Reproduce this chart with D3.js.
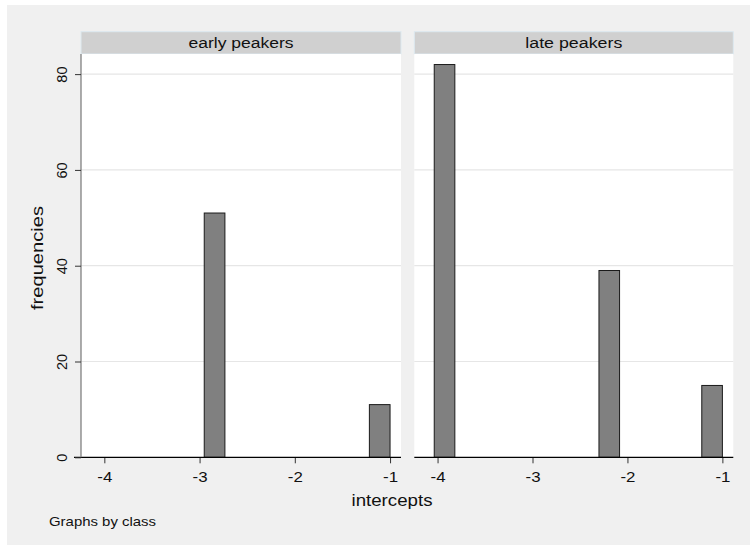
<!DOCTYPE html>
<html>
<head>
<meta charset="utf-8">
<script src="https://cdn.jsdelivr.net/npm/d3@7"></script>
<style>
  body { margin: 0; background: #fff; }
  text { font-family: Arial, "Liberation Sans", sans-serif; fill: #111; }
</style>
</head>
<body>
<div id="chart"></div>
<script>
// histogram bins (lower edges) and counts
var binWidth = 0.217;
var panels = ["early peakers", "late peakers"];
var earlyX0 = [-2.951, -1.217],
    earlyCounts = [51, 11];
var lateX0 = [-4.035, -2.300, -1.217],
    lateCounts = [82, 39, 15];
var xTicks = [-4, -3, -2, -1],
    yTicks = [0, 20, 40, 60, 80];

var panelData = [
  earlyX0.map(function(d, i) { return {x0: d, x1: d + binWidth, n: earlyCounts[i]}; }),
  lateX0.map(function(d, i) { return {x0: d, x1: d + binWidth, n: lateCounts[i]}; })
];

var W = 750, H = 549;
var svg = d3.select("#chart").append("svg")
    .attr("width", W)
    .attr("height", H);

svg.append("rect")
    .attr("x", 7).attr("y", 5)
    .attr("width", W - 7).attr("height", 540)
    .attr("fill", "#f0f0f0");

var plotTop = 54, plotBottom = 457.3;
var panelX = [[81, 401], [414.3, 733.3]];
var headerLen = [105, 97];

var y = d3.scaleLinear()
    .domain([0, 84.2])
    .range([plotBottom, plotTop]);

panelX.forEach(function(px, p) {
  var x = d3.scaleLinear()
      .domain([-4.245, -0.885])
      .range(px);

  var g = svg.append("g");

  // header strip
  g.append("rect")
      .attr("x", px[0]).attr("y", 31.7)
      .attr("width", px[1] - px[0]).attr("height", 22.3)
      .attr("fill", "#d0d0d0")
      .attr("stroke", "#dde9f0")
      .attr("stroke-width", 1);
  g.append("text")
      .attr("x", (px[0] + px[1]) / 2).attr("y", 48)
      .attr("text-anchor", "middle")
      .attr("textLength", headerLen[p])
      .attr("lengthAdjust", "spacingAndGlyphs")
      .style("font-size", "15.5px")
      .text(panels[p]);

  // plot region
  g.append("rect")
      .attr("x", px[0]).attr("y", plotTop)
      .attr("width", px[1] - px[0]).attr("height", plotBottom - plotTop)
      .attr("fill", "#fff");

  // gridlines
  g.selectAll(".grid")
      .data(yTicks.filter(function(d) { return d > 0; }))
    .enter().append("line")
      .attr("x1", px[0]).attr("x2", px[1])
      .attr("y1", function(d) { return y(d); })
      .attr("y2", function(d) { return y(d); })
      .attr("stroke", "#e6e6e6")
      .attr("stroke-width", 1.2);

  // bars
  g.selectAll(".bar")
      .data(panelData[p])
    .enter().append("rect")
      .attr("x", function(d) { return x(d.x0); })
      .attr("y", function(d) { return y(d.n); })
      .attr("width", function(d) { return x(d.x1) - x(d.x0); })
      .attr("height", function(d) { return y(0) - y(d.n); })
      .attr("fill", "#808080")
      .attr("stroke", "#1a1a1a")
      .attr("stroke-width", 1);

  // x axis
  var xAxis = g.append("g")
      .attr("transform", "translate(0," + plotBottom + ")")
      .call(d3.axisBottom(x).tickValues(xTicks).tickSize(6).tickPadding(9)
        .tickFormat(function(d) { return d; }));
  xAxis.select(".domain").remove();
  xAxis.selectAll(".tick line").attr("stroke", "#333");
  xAxis.selectAll("text")
      .attr("textLength", 15)
      .attr("lengthAdjust", "spacingAndGlyphs")
      .style("font-size", "14px")
      .style("font-family", "Arial, 'Liberation Sans', sans-serif")
      .attr("fill", "#111");
  g.append("line")
      .attr("x1", p == 0 ? 74 : px[0]).attr("x2", px[1])
      .attr("y1", plotBottom).attr("y2", plotBottom)
      .attr("stroke", "#000").attr("stroke-width", 1.3);

  if (p == 0) {
    g.append("line")
        .attr("x1", px[0]).attr("x2", px[0])
        .attr("y1", plotTop).attr("y2", plotBottom)
        .attr("stroke", "#808080").attr("stroke-width", 1.3);
    var yAxis = g.append("g")
        .attr("transform", "translate(" + px[0] + ",0)")
        .call(d3.axisLeft(y).tickValues(yTicks).tickSize(6).tickPadding(6));
    yAxis.select(".domain").remove();
    yAxis.selectAll(".tick line").attr("stroke", "#333");
    yAxis.selectAll("text")
        .attr("x", 0).attr("dy", null)
        .attr("transform", "translate(-14,0) rotate(-90)")
        .attr("text-anchor", "middle")
        .style("font-size", "14.5px")
        .style("font-family", "Arial, 'Liberation Sans', sans-serif")
        .attr("fill", "#111");
  }
});

svg.append("text")
    .attr("x", 392).attr("y", 506)
    .attr("text-anchor", "middle")
    .attr("textLength", 81)
    .attr("lengthAdjust", "spacingAndGlyphs")
    .style("font-size", "17px")
    .text("intercepts");

svg.append("text")
    .attr("transform", "translate(43,258) rotate(-90)")
    .attr("text-anchor", "middle")
    .attr("textLength", 104)
    .attr("lengthAdjust", "spacingAndGlyphs")
    .style("font-size", "17px")
    .text("frequencies");

svg.append("text")
    .attr("x", 49).attr("y", 526)
    .attr("textLength", 107)
    .attr("lengthAdjust", "spacingAndGlyphs")
    .style("font-size", "13px")
    .text("Graphs by class");
</script>
</body>
</html>
